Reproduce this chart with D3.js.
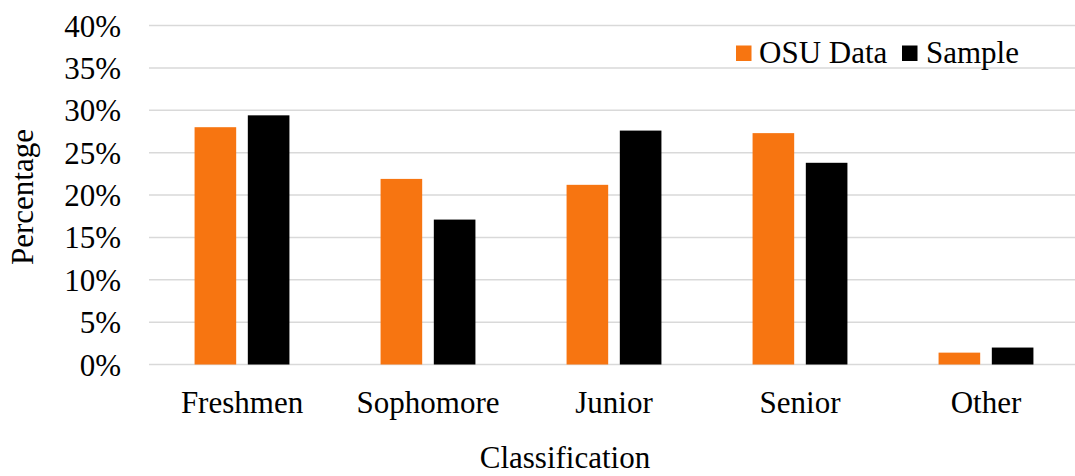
<!DOCTYPE html>
<html>
<head>
<meta charset="utf-8">
<script src="https://cdn.jsdelivr.net/npm/d3@7"></script>
</head>
<body style="margin:0">
<svg id="chart" width="1075" height="476"></svg>
<script>
// Student classification: university population vs. survey sample (percent)
const categories = ["Freshmen", "Sophomore", "Junior", "Senior", "Other"];
const seriesNames = ["OSU Data", "Sample"];
const osuData = [28.0, 21.9, 21.2, 27.3, 1.4];
const sampleData = [29.4, 17.1, 27.6, 23.8, 2.0];
const yTicks = [0, 5, 10, 15, 20, 25, 30, 35, 40];
const colors = ["#f77511", "#000000"];

const svg = d3.select("#chart")
  .style("font-family", '"Liberation Serif"')
  .attr("font-family", "Liberation Serif");

const styleText = sel => sel
  .attr("font-family", "Liberation Serif")
  .attr("font-size", 31)
  .attr("fill", "#000")
  .style("font-family", '"Liberation Serif"');

const plot = { left: 149, right: 1079, top: 25.5, bottom: 364.5 };

const x = d3.scaleBand()
  .domain(categories)
  .range([plot.left, plot.right])
  .paddingInner(0.49)
  .paddingOuter(0.245);

const xSub = d3.scaleBand()
  .domain(seriesNames)
  .range([0, x.bandwidth()])
  .paddingInner(0.2185);

const y = d3.scaleLinear().domain([0, 40]).range([plot.bottom, plot.top]);

const color = d3.scaleOrdinal().domain(seriesNames).range(colors);

// Horizontal gridlines
svg.append("g")
  .selectAll("line")
  .data(yTicks)
  .join("line")
  .attr("x1", plot.left)
  .attr("x2", 1075)
  .attr("y1", d => y(d))
  .attr("y2", d => y(d))
  .attr("stroke", "#d9d9d9")
  .attr("stroke-width", 1.5);

// Y axis labels
const yAxis = d3.axisLeft(y).tickValues(yTicks).tickFormat(d => d + "%").tickSize(0).tickPadding(0);
svg.append("g")
  .attr("transform", "translate(121,0)")
  .call(yAxis)
  .attr("font-family", "Liberation Serif")
  .attr("font-size", 31)
  .call(g => g.select(".domain").remove())
  .call(g => g.selectAll("text")
    .call(styleText)
    .attr("dy", "0.34em"));

// X axis labels
const xAxis = d3.axisBottom(x).tickSize(0).tickPadding(0);
svg.append("g")
  .attr("transform", `translate(0,${plot.bottom})`)
  .call(xAxis)
  .attr("font-family", "Liberation Serif")
  .attr("font-size", 31)
  .call(g => g.select(".domain").remove())
  .call(g => g.selectAll("text")
    .call(styleText)
    .attr("dy", null)
    .attr("y", 48));

// Bars
const rows = categories.map((c, i) => ({ cat: c, values: [osuData[i], sampleData[i]] }));
svg.append("g")
  .selectAll("g")
  .data(rows)
  .join("g")
  .attr("transform", d => `translate(${x(d.cat)},0)`)
  .selectAll("rect")
  .data(d => seriesNames.map((s, j) => ({ s, v: d.values[j] })))
  .join("rect")
  .attr("x", d => xSub(d.s))
  .attr("width", xSub.bandwidth())
  .attr("y", d => y(d.v))
  .attr("height", d => y(0) - y(d.v))
  .attr("fill", d => color(d.s));

// Legend
const legendItems = [
  { name: seriesNames[0], sx: 736, tx: 759 },
  { name: seriesNames[1], sx: 902, tx: 926 }
];
const legend = svg.append("g");
legend.selectAll("rect")
  .data(legendItems)
  .join("rect")
  .attr("x", d => d.sx)
  .attr("y", 45.5)
  .attr("width", 15.5)
  .attr("height", 15.5)
  .attr("fill", d => color(d.name));
legend.selectAll("text")
  .data(legendItems)
  .join("text")
  .attr("x", d => d.tx)
  .attr("y", 63)
  .call(styleText)
  .text(d => d.name);

// Axis titles
svg.append("text")
  .attr("transform", "translate(33,197) rotate(-90)")
  .attr("text-anchor", "middle")
  .call(styleText)
  .text("Percentage");

svg.append("text")
  .attr("x", 565)
  .attr("y", 468)
  .attr("text-anchor", "middle")
  .call(styleText)
  .text("Classification");
</script>
</body>
</html>
